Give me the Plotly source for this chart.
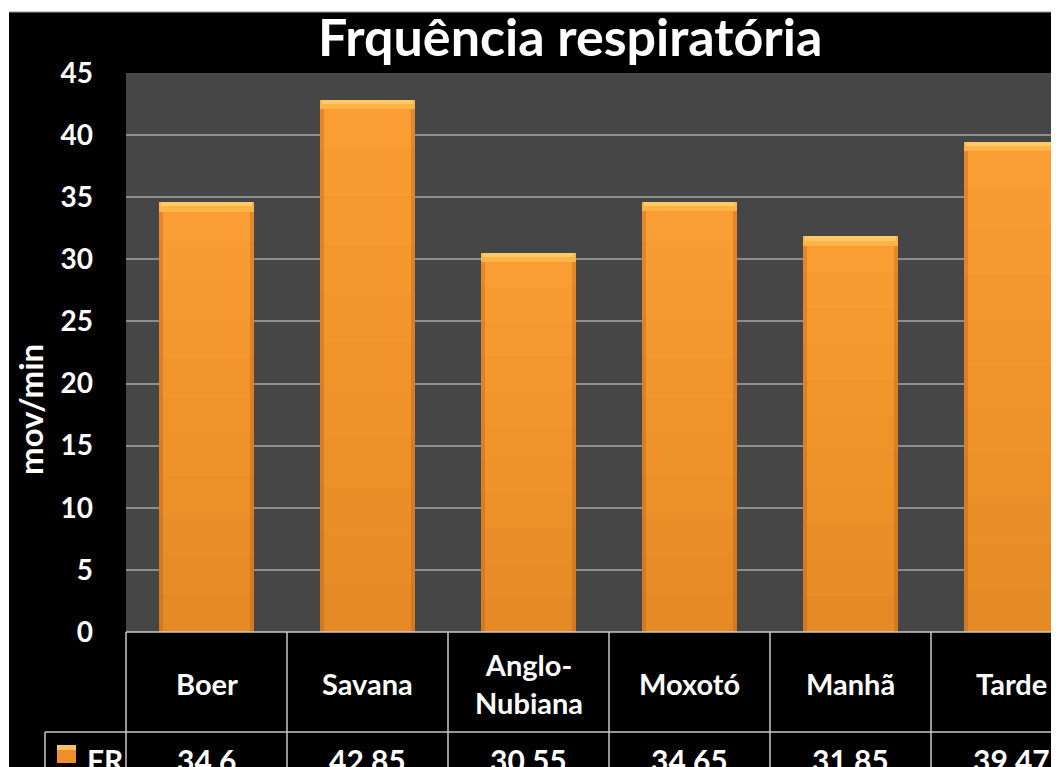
import plotly.graph_objects as go

categories = ["Boer", "Savana", "Anglo-<br>Nubiana", "Moxotó", "Manhã", "Tarde"]
fr_values = [34.6, 42.85, 30.55, 34.65, 31.85, 39.47]
value_labels = ["34.6", "42.85", "30.55", "34.65", "31.85", "39.47"]
y_ticks = [0, 5, 10, 15, 20, 25, 30, 35, 40, 45]
series_name = "FR"
title_text = "Frquência respiratória"
y_title = "mov/min"

# the page body has an 8px margin; figure fills the rest of the 1059x767 window
OFF = 8
W, H = 1059 - OFF, 767 - OFF
PL, PT, PB = 126, 73, 632          # plot area in page pixels
L, T = PL - OFF, PT - OFF
B = H - (PB - OFF)
PW, PH = W - L, H - T - B
CAT_PX = 161.0

def px_x(px):
    return (px - PL) / PW

def px_y(py):
    return (PB - py) / PH

FONT = "Lato"
xs = list(range(len(categories)))
x_max = (1059 - PL) / CAT_PX - 0.5

fig = go.Figure()
BW = 0.59
fig.add_trace(go.Bar(x=xs, y=fr_values, width=BW, marker=dict(color="#E5862B", line=dict(width=0)),
                     hoverinfo="skip", showlegend=False))
fig.add_trace(go.Bar(x=xs, y=fr_values, width=BW - 0.05, marker=dict(color="#FA9E34", line=dict(width=0)),
                     hoverinfo="skip", showlegend=False))
N = 10
for k in range(1, N + 1):
    frac = 1 - k / (N + 1)
    fig.add_trace(go.Bar(x=xs, y=[v * frac for v in fr_values], width=BW,
                         marker=dict(color="rgba(170,70,10,0.025)", line=dict(width=0)),
                         hoverinfo="skip", showlegend=False))
cap = 0.75
fig.add_trace(go.Bar(x=xs, y=[cap] * len(fr_values), base=[v - cap for v in fr_values], width=BW,
                     marker=dict(color="#FDB346", line=dict(width=0)), hoverinfo="skip", showlegend=False))
fig.add_trace(go.Bar(x=xs, y=[cap * 0.45] * len(fr_values), base=[v - cap * 0.45 for v in fr_values], width=BW - 0.02,
                     marker=dict(color="#FFCB66", line=dict(width=0)), hoverinfo="skip", showlegend=False))

shapes = []
LINE = dict(color="#C8C8C8", width=1.5)
y_row1 = px_y(732)
y_bot = px_y(800)
shapes.append(dict(type="line", xref="paper", yref="paper", x0=0, x1=1.2, y0=0, y1=0, line=LINE))
shapes.append(dict(type="line", xref="paper", yref="paper", x0=px_x(45), x1=1.2, y0=y_row1, y1=y_row1, line=LINE))
shapes.append(dict(type="line", xref="paper", yref="paper", x0=0, x1=0, y0=0, y1=y_bot, line=LINE))
shapes.append(dict(type="line", xref="paper", yref="paper", x0=px_x(45), x1=px_x(45), y0=y_row1, y1=y_bot, line=LINE))
for i in range(len(categories)):
    shapes.append(dict(type="line", xref="x", yref="paper", x0=i + 0.5, x1=i + 0.5, y0=0, y1=y_bot, line=LINE))
# legend key
shapes.append(dict(type="rect", xref="paper", yref="paper", x0=px_x(57), x1=px_x(76), y0=px_y(763), y1=px_y(745),
                   fillcolor="#EE8F2E", line=dict(width=0)))
shapes.append(dict(type="rect", xref="paper", yref="paper", x0=px_x(57), x1=px_x(76), y0=px_y(750), y1=px_y(745),
                   fillcolor="#FFC45E", line=dict(width=0)))
# white outer strips (image crop edge)
shapes.append(dict(type="rect", xref="paper", yref="paper", x0=-0.3, x1=1.3, y0=px_y(12), y1=1.3,
                   fillcolor="white", line=dict(width=0), layer="above"))
shapes.append(dict(type="rect", xref="paper", yref="paper", x0=-0.3, x1=px_x(9), y0=-0.5, y1=1.3,
                   fillcolor="white", line=dict(width=0), layer="above"))
shapes.append(dict(type="line", xref="paper", yref="paper", x0=px_x(9), x1=1.3, y0=px_y(12), y1=px_y(12),
                   line=dict(color="#9A9A9A", width=1), layer="above"))

annotations = []
for i, c in enumerate(categories):
    annotations.append(dict(x=i, y=px_y(683), xref="x", yref="paper", text=c, showarrow=False,
                            font=dict(family=FONT, size=29, color="white", weight="bold"),
                            xanchor="center", yanchor="middle"))
for i, t in enumerate(value_labels):
    annotations.append(dict(x=i, y=px_y(760), xref="x", yref="paper", text=t, showarrow=False,
                            font=dict(family=FONT, size=30, color="white", weight="bold"),
                            xanchor="center", yanchor="middle"))
annotations.append(dict(x=px_x(85), y=px_y(760), xref="paper", yref="paper", text=series_name, showarrow=False,
                        font=dict(family=FONT, size=30, color="white", weight="bold"),
                        xanchor="left", yanchor="middle"))
annotations.append(dict(x=px_x(30), y=px_y(410), xref="paper", yref="paper", text=y_title, showarrow=False,
                        textangle=-90, font=dict(family=FONT, size=33, color="white", weight="bold"),
                        xanchor="center", yanchor="middle"))
annotations.append(dict(x=px_x(570), y=px_y(36), xref="paper", yref="paper", text=title_text, showarrow=False,
                        font=dict(family=FONT, size=52, color="white", weight="bold"),
                        xanchor="center", yanchor="middle"))

fig.update_layout(
    width=W, height=H,
    margin=dict(l=L, r=0, t=T, b=B, pad=0),
    paper_bgcolor="black", plot_bgcolor="#464646",
    barmode="overlay", bargap=0, showlegend=False,
    shapes=shapes, annotations=annotations,
    xaxis=dict(range=[-0.5, x_max], showticklabels=False, showgrid=False, zeroline=False,
               fixedrange=True, showline=False),
    yaxis=dict(range=[0, 45], tickvals=y_ticks, ticktext=[str(v) for v in y_ticks],
               showgrid=True, gridcolor="#8E8E8E", gridwidth=2, zeroline=False, showline=False,
               tickfont=dict(family=FONT, size=28, color="white", weight="bold"),
               ticklabelstandoff=32, ticks="", fixedrange=True),
)

fig.write_html("out.html")
